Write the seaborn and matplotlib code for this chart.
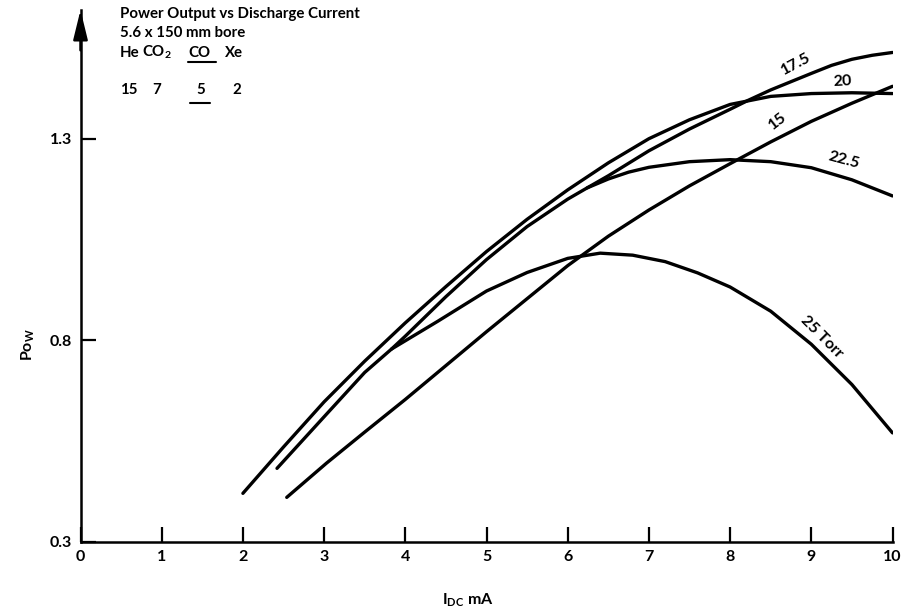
import matplotlib
matplotlib.use("Agg")
import matplotlib.pyplot as plt
import pandas as pd
import seaborn as sns
from matplotlib.lines import Line2D

# ---------------- data ----------------
pressures = ["15", "17.5", "20", "22.5", "25 Torr"]

current_15 = [2.54, 3.03, 3.5, 4.0, 4.5, 5.0, 5.5, 6.0, 6.5, 7.0, 7.5, 8.0, 8.5, 9.0, 9.5, 10.0]
power_15 = [0.41, 0.495, 0.572, 0.653, 0.737, 0.821, 0.903, 0.985, 1.058, 1.123, 1.183, 1.238, 1.292, 1.343, 1.388, 1.43]

current_175 = [2.42, 3.0, 3.5, 3.83, 4.0, 4.5, 5.0, 5.5, 6.0, 6.24, 6.5, 7.0, 7.5, 8.0, 8.22, 8.5, 9.0, 9.25, 9.5, 9.75, 10.0]
power_175 = [0.482, 0.61, 0.72, 0.778, 0.81, 0.908, 1.0, 1.082, 1.15, 1.178, 1.208, 1.27, 1.324, 1.373, 1.395, 1.421, 1.462, 1.482, 1.497, 1.507, 1.514]

current_20 = [2.0, 2.5, 3.0, 3.5, 4.0, 4.5, 5.0, 5.5, 6.0, 6.5, 7.0, 7.5, 8.0, 8.5, 9.0, 9.5, 10.0]
power_20 = [0.42, 0.535, 0.647, 0.748, 0.843, 0.933, 1.02, 1.1, 1.173, 1.24, 1.3, 1.347, 1.385, 1.405, 1.412, 1.414, 1.412]

current_225 = [6.24, 6.5, 6.75, 7.0, 7.5, 8.0, 8.5, 9.0, 9.5, 10.0]
power_225 = [1.178, 1.2, 1.217, 1.229, 1.243, 1.248, 1.243, 1.228, 1.198, 1.158]

current_25 = [3.83, 4.4, 5.0, 5.5, 6.0, 6.4, 6.8, 7.2, 7.6, 8.0, 8.5, 9.0, 9.5, 10.0]
power_25 = [0.778, 0.847, 0.922, 0.968, 1.003, 1.016, 1.011, 0.995, 0.967, 0.932, 0.872, 0.79, 0.69, 0.57]

x_ticks = [0, 1, 2, 3, 4, 5, 6, 7, 8, 9, 10]
x_tick_labels = ["0", "1", "2", "3", "4", "5", "6", "7", "8", "9", "10"]
y_ticks = [0.3, 0.8, 1.3]
y_tick_labels = ["0.3", "0.8", "1.3"]

title_lines = ["Power Output vs Discharge Current", "5.6 x 150 mm bore"]
gas_names = ["He", "CO$_2$", "CO", "Xe"]
gas_parts = ["15", "7", "5", "2"]

# ---------------- build table ----------------
series = [
    (pressures[0], current_15, power_15),
    (pressures[1], current_175, power_175),
    (pressures[2], current_20, power_20),
    (pressures[3], current_225, power_225),
    (pressures[4], current_25, power_25),
]
frames = []
for name, xs, ys in series:
    frames.append(pd.DataFrame({"current": xs, "power": ys, "pressure": name}))
df = pd.concat(frames, ignore_index=True)

# ---------------- style ----------------
sns.set_theme(style="ticks")
plt.rcParams["font.family"] = ["Lato", "DejaVu Sans"]
plt.rcParams["font.weight"] = "bold"
plt.rcParams["mathtext.fontset"] = "custom"
plt.rcParams["mathtext.rm"] = "Lato:bold"
plt.rcParams["mathtext.it"] = "Lato:italic:bold"
plt.rcParams["mathtext.bf"] = "Lato:bold"

W, H = 903, 609
fig = plt.figure(figsize=(W / 100, H / 100), dpi=100)
fig.patch.set_facecolor("white")

x0_px, x10_px = 80.5, 892.5
ybot_px, ytop_px = 541.7, 10.0
px_per_y = 403.0
y_top = 0.3 + (ybot_px - ytop_px) / px_per_y

ax = fig.add_axes([x0_px / W, (H - ybot_px) / H, (x10_px - x0_px) / W, (ybot_px - ytop_px) / H])
ax.set_facecolor("white")

sns.lineplot(data=df, x="current", y="power", hue="pressure",
             palette=["black"] * len(pressures), estimator=None, sort=False,
             legend=False, linewidth=2.4, ax=ax)

ax.set_xlim(0, 10)
ax.set_ylim(0.3, y_top)
ax.set_xticks(x_ticks)
ax.set_xticklabels(x_tick_labels)
ax.set_yticks(y_ticks)
ax.set_yticklabels(y_tick_labels)
ax.set_xlabel("")
ax.set_ylabel("")

for s in ["top", "right"]:
    ax.spines[s].set_visible(False)
for s in ["left", "bottom"]:
    ax.spines[s].set_linewidth(1.8)
    ax.spines[s].set_color("black")

ax.tick_params(axis="both", direction="in", length=11, width=1.6, colors="black",
               labelsize=11.5, pad=6)

# arrow head on the y axis
ax.annotate("", xy=(0, y_top), xytext=(0, y_top - 0.1), xycoords="data",
            arrowprops=dict(arrowstyle="-|>,head_length=0.9,head_width=0.22",
                            color="black", lw=1.8, shrinkA=0, shrinkB=0,
                            mutation_scale=20),
            annotation_clip=False)

# curve labels
label_specs = [
    (pressures[1], 8.81, 1.485, 28),
    (pressures[2], 9.38, 1.441, 3),
    (pressures[0], 8.59, 1.343, 38),
    (pressures[3], 9.40, 1.247, -15),
    (pressures[4], 9.13, 0.808, -45),
]
for txt, lx, ly, rot in label_specs:
    ax.text(lx, ly, txt, rotation=rot, ha="center", va="center",
            rotation_mode="anchor", fontsize=11.5, color="black")


def ftext(px, py, s, **kw):
    return fig.text(px / W, 1 - py / H, s, color="black", **kw)


# header block
ftext(120, 18.3, title_lines[0], fontsize=10.8, va="baseline", ha="left")
ftext(120, 37.3, title_lines[1], fontsize=10.8, va="baseline", ha="left")
for name, px in zip(gas_names, [120, 142, 188, 225]):
    ftext(px, 56.7, name, fontsize=10.8, va="baseline", ha="left")
for part, px in zip(gas_parts, [120, 152, 196, 232]):
    ftext(px, 94.3, part, fontsize=10.8, va="baseline", ha="left")
fig.add_artist(Line2D([188 / W, 216 / W], [1 - 61.7 / H] * 2, transform=fig.transFigure,
                      color="black", lw=1.5))
fig.add_artist(Line2D([190 / W, 210 / W], [1 - 102.7 / H] * 2, transform=fig.transFigure,
                      color="black", lw=1.5))

# axis titles
ftext(28, 345, "Po$_{\\mathregular{W}}$", fontsize=11.5, rotation=90, ha="center", va="center")
ftext(468, 600, "I$_{\\mathregular{DC}}$ mA", fontsize=11.5, ha="center", va="center")

fig.savefig("out.png", dpi=100, facecolor="white")
